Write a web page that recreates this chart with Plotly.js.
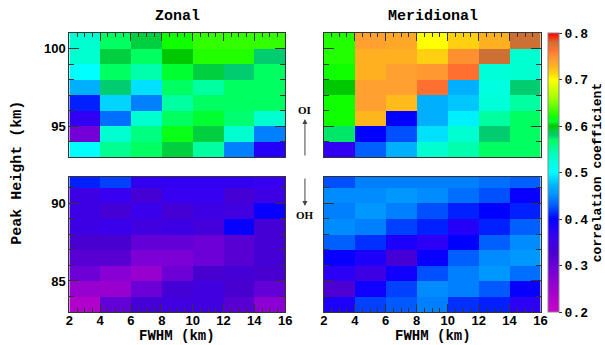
<!DOCTYPE html>
<html>
<head>
<meta charset="utf-8">
<script src="https://cdn.plot.ly/plotly-3.0.1.min.js"></script>
<style>html,body{margin:0;padding:0;background:#fff}#chart{width:605px;height:345px}</style>
</head>
<body>
<div id="chart"></div>
<script>
// FWHM bin centres (km)
const fwhm = [3, 5, 7, 9, 11, 13, 15];
// Peak height bin centres (km), top to bottom
const heightsOI = [100.5, 99.5, 98.5, 97.5, 96.5, 95.5, 94.5, 93.5];
const heightsOH = [91.5, 90.5, 89.5, 88.5, 87.5, 86.5, 85.5, 84.5, 83.5];

// Zonal, OI block (rows top to bottom)
const zonalOI = [
  [0.53, 0.57, 0.59, 0.62, 0.63, 0.63, 0.63],
  [0.53, 0.59, 0.57, 0.60, 0.625, 0.625, 0.58],
  [0.50, 0.57, 0.545, 0.61, 0.59, 0.58, 0.57],
  [0.47, 0.58, 0.49, 0.57, 0.55, 0.57, 0.57],
  [0.41, 0.485, 0.445, 0.55, 0.57, 0.57, 0.57],
  [0.365, 0.437, 0.53, 0.57, 0.61, 0.565, 0.53],
  [0.29, 0.53, 0.56, 0.615, 0.59, 0.53, 0.445],
  [0.50, 0.555, 0.57, 0.59, 0.55, 0.445, 0.375]
];
// Zonal, OH block
const zonalOH = [
  [0.41, 0.42, 0.365, 0.365, 0.365, 0.365, 0.36],
  [0.35, 0.36, 0.335, 0.36, 0.36, 0.335, 0.35],
  [0.35, 0.335, 0.355, 0.335, 0.35, 0.345, 0.395],
  [0.35, 0.355, 0.345, 0.35, 0.34, 0.395, 0.335],
  [0.33, 0.33, 0.305, 0.305, 0.295, 0.315, 0.335],
  [0.315, 0.315, 0.28, 0.28, 0.295, 0.315, 0.335],
  [0.295, 0.27, 0.255, 0.295, 0.33, 0.335, 0.33],
  [0.255, 0.255, 0.295, 0.335, 0.345, 0.33, 0.305],
  [0.23, 0.305, 0.335, 0.345, 0.345, 0.315, 0.265]
];
// Meridional, OI block
const meridOI = [
  [0.625, 0.74, 0.735, 0.70, 0.715, 0.73, 0.78],
  [0.625, 0.73, 0.73, 0.715, 0.75, 0.78, 0.53],
  [0.62, 0.73, 0.74, 0.745, 0.765, 0.525, 0.53],
  [0.60, 0.74, 0.74, 0.765, 0.47, 0.52, 0.58],
  [0.62, 0.74, 0.725, 0.47, 0.48, 0.525, 0.55],
  [0.62, 0.727, 0.40, 0.47, 0.495, 0.55, 0.57],
  [0.575, 0.40, 0.425, 0.49, 0.53, 0.58, 0.57],
  [0.365, 0.43, 0.47, 0.53, 0.545, 0.57, 0.57]
];
// Meridional, OH block
const meridOH = [
  [0.425, 0.445, 0.445, 0.445, 0.445, 0.437, 0.43],
  [0.45, 0.45, 0.455, 0.45, 0.437, 0.425, 0.395],
  [0.445, 0.455, 0.445, 0.425, 0.41, 0.40, 0.41],
  [0.45, 0.445, 0.42, 0.41, 0.375, 0.41, 0.43],
  [0.43, 0.415, 0.38, 0.37, 0.40, 0.43, 0.45],
  [0.395, 0.38, 0.335, 0.395, 0.43, 0.45, 0.455],
  [0.37, 0.35, 0.39, 0.425, 0.445, 0.455, 0.437],
  [0.325, 0.39, 0.42, 0.45, 0.445, 0.428, 0.395],
  [0.38, 0.42, 0.428, 0.445, 0.415, 0.41, 0.37]
];

const cbTicks = [0.2, 0.3, 0.4, 0.5, 0.6, 0.7, 0.8];
const cmin = 0.2, cmax = 0.8;

const stops = [
  [0.20, '#cc00cc'], [0.24, '#a800cc'], [0.27, '#8800d4'], [0.30, '#6800d8'],
  [0.33, '#4800d0'], [0.36, '#3800f0'], [0.39, '#1000ff'], [0.40, '#0000ff'],
  [0.415, '#0030ff'], [0.43, '#0060ff'], [0.445, '#0080ff'], [0.455, '#0098ff'],
  [0.47, '#00b0ff'], [0.49, '#00e0ff'], [0.50, '#00ffff'], [0.53, '#00ffd0'],
  [0.55, '#00ffa0'], [0.57, '#00ff60'], [0.58, '#00cc70'], [0.59, '#00d040'],
  [0.60, '#00c800'], [0.61, '#00ff30'], [0.62, '#10ff00'], [0.66, '#a0ff00'],
  [0.70, '#ffff00'], [0.715, '#ffd010'], [0.73, '#ffb020'], [0.74, '#ffa030'],
  [0.75, '#ff9030'], [0.765, '#ff7030'], [0.78, '#cc7033'], [0.79, '#ff3010'],
  [0.80, '#ff0000']
];
const colorscale = stops.map(s => [(s[0] - cmin) / (cmax - cmin), s[1]]);

function rev(a) { return a.slice().reverse(); }
function hm(z, y, xa, ya) {
  return {type: 'heatmap', x: fwhm, y: rev(y), z: rev(z), xaxis: xa, yaxis: ya,
          coloraxis: 'coloraxis', hoverinfo: 'skip'};
}

const data = [
  hm(zonalOI, heightsOI, 'x', 'y'),
  hm(zonalOH, heightsOH, 'x2', 'y2'),
  hm(meridOI, heightsOI, 'x3', 'y3'),
  hm(meridOH, heightsOH, 'x4', 'y4')
];

const tickFont = {family: 'Liberation Sans', size: 13, color: '#000', weight: 'bold'};
const monoFont = {family: 'Liberation Mono', size: 15, color: '#000', weight: 'bold'};
const monoFontSm = {family: 'Liberation Mono', size: 14, color: '#000', weight: 'bold'};

const colZ = [70/605, 288/605];
const colM = [327/605, 546/605];
const rowU = [1 - 157/345, 1 - 33/345];
const rowL = [1 - 312/345, 1 - 177/345];

function xa(domain, anchor, side, labels) {
  return {domain: domain, anchor: anchor, range: [2, 16], side: side,
          ticks: 'inside', ticklen: 8, tickwidth: 1, tickcolor: '#333',
          dtick: 2, tick0: 2, showticklabels: labels, tickfont: tickFont,
          ticklabelstandoff: -4,
          minor: {dtick: 0.5, ticklen: 4, ticks: 'inside', tickcolor: '#333'},
          showline: true, linecolor: '#333', linewidth: 1, mirror: true,
          showgrid: false, zeroline: false, fixedrange: true};
}
function ya(domain, anchor, range, labels) {
  return {domain: domain, anchor: anchor, range: range,
          ticks: 'inside', ticklen: 10, tickwidth: 1, tickcolor: '#333',
          dtick: 5, tick0: 0, showticklabels: labels, tickfont: tickFont,
          minor: {dtick: 1, ticklen: 5, ticks: 'inside', tickcolor: '#333'},
          showline: true, linecolor: '#333', linewidth: 1, mirror: 'ticks',
          showgrid: false, zeroline: false, fixedrange: true};
}

const layout = {
  width: 605, height: 345,
  margin: {l: 0, r: 0, t: 0, b: 0},
  paper_bgcolor: '#fff', plot_bgcolor: '#fff',
  showlegend: false,
  xaxis: xa(colZ, 'y', 'top', false),
  yaxis: ya(rowU, 'x', [93, 101], true),
  xaxis2: xa(colZ, 'y2', 'bottom', true),
  yaxis2: ya(rowL, 'x2', [83, 91.7], true),
  xaxis3: xa(colM, 'y3', 'top', false),
  yaxis3: ya(rowU, 'x3', [93, 101], false),
  xaxis4: xa(colM, 'y4', 'bottom', true),
  yaxis4: ya(rowL, 'x4', [83, 91.7], false),
  coloraxis: {
    cmin: cmin, cmax: cmax, colorscale: colorscale,
    colorbar: {
      x: 553/605, xanchor: 'left', y: 1 - 172.5/345, yanchor: 'middle',
      len: 279/345, lenmode: 'fraction', thickness: 11, xpad: 0, ypad: 0,
      outlinewidth: 1, outlinecolor: '#888',
      tickvals: cbTicks, ticktext: cbTicks.map(v => v.toFixed(1)),
      ticks: 'outside', ticklen: 3, tickcolor: '#333',
      tickfont: {family: 'Liberation Mono', size: 13, color: '#000', weight: 'bold'},
      title: {text: 'correlation coefficient', side: 'right',
              font: {family: 'Liberation Mono', size: 13, color: '#000', weight: 'bold'}}
    }
  },
  annotations: [
    {text: 'Zonal', x: 179/605, y: 1 - 16/345, xref: 'paper', yref: 'paper',
     showarrow: false, font: monoFont, xanchor: 'center', yanchor: 'middle'},
    {text: 'Meridional', x: 437/605, y: 1 - 16/345, xref: 'paper', yref: 'paper',
     showarrow: false, font: monoFont, xanchor: 'center', yanchor: 'middle'},
    {text: 'FWHM (km)', x: 179/605, y: 0, xref: 'paper', yref: 'paper', borderpad: 0,
     showarrow: false, font: monoFontSm, xanchor: 'center', yanchor: 'bottom'},
    {text: 'FWHM (km)', x: 437/605, y: 0, xref: 'paper', yref: 'paper', borderpad: 0,
     showarrow: false, font: monoFontSm, xanchor: 'center', yanchor: 'bottom'},
    {text: 'Peak Height (km)', x: 17/605, y: 1 - 173/345, xref: 'paper', yref: 'paper',
     showarrow: false, font: monoFont, textangle: -90, xanchor: 'center', yanchor: 'middle'},
    {text: 'OI', x: 308/605, y: 1 - 110/345, xref: 'paper', yref: 'paper',
     showarrow: false, xanchor: 'center', yanchor: 'middle',
     font: {family: 'Liberation Serif', size: 11, color: '#000', weight: 'bold'}},
    {text: 'OH', x: 308/605, y: 1 - 215/345, xref: 'paper', yref: 'paper',
     showarrow: false, xanchor: 'center', yanchor: 'middle',
     font: {family: 'Liberation Serif', size: 11, color: '#000', weight: 'bold'}},
    {text: '', x: 308/605, y: 1 - 119/345, xref: 'paper', yref: 'paper',
     showarrow: true, ax: 0, ay: 38, arrowhead: 2, arrowsize: 1, arrowwidth: 1, arrowcolor: '#444'},
    {text: '', x: 308/605, y: 1 - 206/345, xref: 'paper', yref: 'paper',
     showarrow: true, ax: 0, ay: -29, arrowhead: 2, arrowsize: 1, arrowwidth: 1, arrowcolor: '#444'}
  ]
};

Plotly.newPlot('chart', data, layout, {displayModeBar: false, staticPlot: true});
</script>
</body>
</html>
